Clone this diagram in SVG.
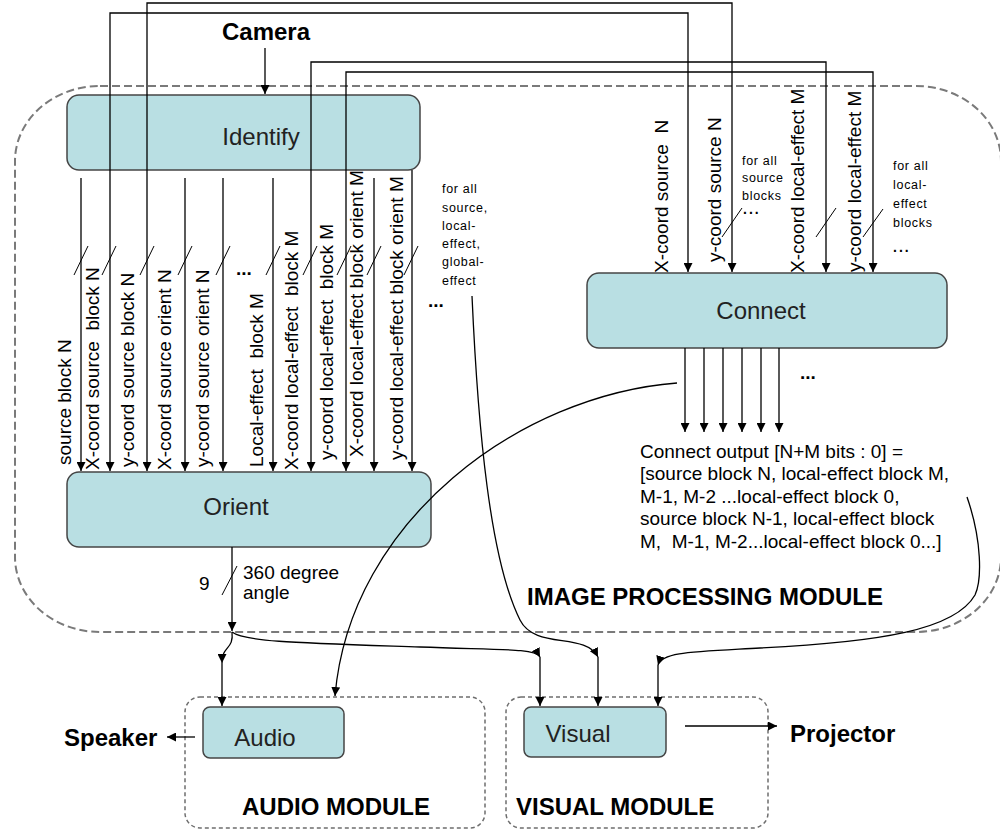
<svg xmlns="http://www.w3.org/2000/svg" width="1000" height="831" viewBox="0 0 1000 831">
  <defs>
    <style>
      .box{fill:#b9dfe3;stroke:#454545;stroke-width:1.5}
      .mod{fill:none;stroke:#6e6e6e;stroke-width:1.5;stroke-dasharray:4 3}
      .outer{fill:none;stroke:#7a7a7a;stroke-width:2;stroke-dasharray:8 4}
      .wire{fill:none;stroke:#000;stroke-width:1.3}
      .arr{marker-end:url(#ah)}
      .both{marker-start:url(#ah);marker-end:url(#ah)}
      .tick{fill:none;stroke:#000;stroke-width:1}
      text{font-family:"Liberation Sans",Arial,Helvetica,sans-serif;fill:#000}
      .node{font-size:24px;fill:#222;text-anchor:middle}
      .lbl{font-size:19px}
      .small{font-size:12.5px;letter-spacing:0.7px}
      .sdots{font-weight:bold;font-size:14px;letter-spacing:2px}
      .bold{font-size:24px;font-weight:bold}
      .dots{font-size:19px;font-weight:bold}
    </style>
    <marker id="ah" viewBox="0 0 10 10" refX="10" refY="5" markerWidth="9" markerHeight="9" markerUnits="userSpaceOnUse" orient="auto-start-reverse">
      <path d="M0,0 L10,5 L0,10 z" fill="#000"/>
    </marker>
  </defs>

  <!-- module boundaries -->
  <g id="image-processing-module">
    <rect class="outer" x="15" y="86" width="986" height="546" rx="85" ry="75"/>
    <text class="bold" x="527" y="605">IMAGE PROCESSING MODULE</text>
  </g>
  <g id="audio-module">
    <rect class="mod" x="185" y="697" width="300" height="131" rx="15"/>
    <text class="bold" x="242" y="815">AUDIO MODULE</text>
  </g>
  <g id="visual-module">
    <rect class="mod" x="506" y="697" width="262" height="131" rx="15"/>
    <text class="bold" x="516" y="815">VISUAL MODULE</text>
  </g>

  <!-- processing blocks -->
  <g id="identify">
    <rect class="box" x="67" y="95" width="353" height="75" rx="12"/>
    <text class="node" x="261" y="145">Identify</text>
  </g>
  <g id="orient">
    <rect class="box" x="67" y="472" width="364" height="75" rx="12"/>
    <text class="node" x="236" y="515">Orient</text>
  </g>
  <g id="connect">
    <rect class="box" x="587" y="273" width="360" height="75" rx="12"/>
    <text class="node" x="761" y="319">Connect</text>
  </g>
  <g id="audio">
    <rect class="box" x="203" y="707" width="141" height="51" rx="7"/>
    <text class="node" x="265" y="746">Audio</text>
  </g>
  <g id="visual">
    <rect class="box" x="524" y="707" width="142" height="50" rx="7"/>
    <text class="node" x="578" y="742">Visual</text>
  </g>

  <!-- external devices -->
  <g id="camera">
    <text class="bold" x="222" y="40">Camera</text>
  </g>
  <g id="speaker">
    <text class="bold" x="64" y="746">Speaker</text>
  </g>
  <g id="projector">
    <text class="bold" x="790" y="742">Projector</text>
  </g>

  <!-- connectors -->
  <g id="connectors">
    <path class="wire arr" d="M265,48 V94"/>

    <!-- Identify outputs into Orient -->
    <path class="wire arr" d="M81,178 V471"/>
    <path class="wire arr" d="M185,178 V471"/>
    <path class="wire arr" d="M223,178 V471"/>
    <path class="wire arr" d="M273,178 V471"/>
    <path class="wire arr" d="M374,178 V471"/>
    <path class="wire arr" d="M412,170 V471"/>

    <!-- shared buses to Orient and Connect -->
    <path class="wire both" d="M110,471 V13 H688 V272"/>
    <path class="wire both" d="M147,471 V3 H732 V272"/>
    <path class="wire both" d="M311,471 V62 H826 V272"/>
    <path class="wire both" d="M346,471 V72 H873 V272"/>

    <!-- Connect outputs -->
    <path class="wire arr" d="M685,348 V432"/>
    <path class="wire arr" d="M704,348 V432"/>
    <path class="wire arr" d="M723,348 V432"/>
    <path class="wire arr" d="M742,348 V432"/>
    <path class="wire arr" d="M761,348 V432"/>
    <path class="wire arr" d="M779,348 V432"/>

    <!-- Orient angle output -->
    <path class="wire arr" d="M232,547 V631"/>
    <path class="wire arr" d="M232,632 C234,650 222,645 222,663"/>
    <path class="wire arr" d="M222,663 V706"/>
    <path class="wire arr" d="M232,632 C245,642 300,643 420,647 C500,650 535,648 540,657"/>
    <path class="wire arr" d="M540,657 V706"/>

    <!-- global/local source feed to Visual -->
    <path class="wire arr" d="M472,296 C478,430 490,560 520,620 C535,650 585,632 598,657"/>
    <path class="wire arr" d="M598,657 V706"/>

    <!-- Connect output to Audio -->
    <path class="wire arr" d="M677,383 C520,395 350,520 335,696"/>

    <!-- Connect output to Visual -->
    <path class="wire arr" d="M967,497 C982,540 982,580 975,595 C955,630 880,642 760,648 C690,652 662,652 658,665"/>
    <path class="wire arr" d="M658,665 V706"/>

    <!-- device links -->
    <path class="wire arr" d="M195,737 H167"/>
    <path class="wire arr" d="M685,726 H777"/>

    <!-- bus width ticks -->
    <g class="tick">
      <path d="M74,275 L88,246"/>
      <path d="M102,275 L116,246"/>
      <path d="M140,275 L154,246"/>
      <path d="M178,275 L192,246"/>
      <path d="M216,275 L230,246"/>
      <path d="M266,275 L280,246"/>
      <path d="M303,275 L317,246"/>
      <path d="M337,275 L351,246"/>
      <path d="M367,275 L381,246"/>
      <path d="M404,275 L418,246"/>
      <path d="M222,595 L237,566"/>
      <path d="M722,237 L742,208"/>
      <path d="M816,237 L836,208"/>
      <path d="M863,237 L883,209"/>
    </g>
  </g>

  <!-- signal labels -->
  <g id="signal-labels" class="lbl">
    <text class="lbl" transform="translate(71,465) rotate(-90)">source block N</text>
    <text class="lbl" xml:space="preserve" transform="translate(99,470) rotate(-90)">X-coord source  block N</text>
    <text class="lbl" transform="translate(134,467) rotate(-90)">y-coord source block N</text>
    <text class="lbl" transform="translate(171,470) rotate(-90)">X-coord source orient N</text>
    <text class="lbl" transform="translate(209,467) rotate(-90)">y-coord source orient N</text>
    <text class="lbl" xml:space="preserve" transform="translate(263,467) rotate(-90)">Local-effect  block M</text>
    <text class="lbl" xml:space="preserve" transform="translate(298,470) rotate(-90)">X-coord local-effect  block M</text>
    <text class="lbl" xml:space="preserve" transform="translate(333,460) rotate(-90)">y-coord local-effect  block M</text>
    <text class="lbl" transform="translate(363,457) rotate(-90)">X-coord local-effect block orient M</text>
    <text class="lbl" transform="translate(403,460) rotate(-90)">y-coord local-effect block orient M</text>
    <text class="dots" x="236" y="275">...</text>
    <text class="dots" x="428" y="307">...</text>

    <text class="small" x="442"><tspan x="442" y="193">for all</tspan><tspan x="442" y="212">source,</tspan><tspan x="442" y="230">local-</tspan><tspan x="442" y="248">effect,</tspan><tspan x="442" y="266">global-</tspan><tspan x="442" y="285">effect</tspan></text>

    <text class="lbl" xml:space="preserve" transform="translate(668,273) rotate(-90)">X-coord source  N</text>
    <text class="lbl" transform="translate(721,262) rotate(-90)">y-coord source N</text>
    <text class="lbl" transform="translate(804,273) rotate(-90)">X-coord local-effect M</text>
    <text class="lbl" transform="translate(861,272) rotate(-90)">y-coord local-effect M</text>
    <text class="small" x="742"><tspan x="742" y="165">for all</tspan><tspan x="742" y="182">source</tspan><tspan x="742" y="200">blocks</tspan><tspan class="sdots" x="743" y="214">...</tspan></text>
    <text class="small" x="893"><tspan x="893" y="170">for all</tspan><tspan x="893" y="189">local-</tspan><tspan x="893" y="208">effect</tspan><tspan x="893" y="227">blocks</tspan><tspan class="sdots" x="893" y="252">...</tspan></text>
    <text class="dots" x="800" y="379">...</text>

    <text class="lbl" xml:space="preserve"><tspan x="640" y="458">Connect output [N+M bits : 0] =</tspan><tspan x="640" y="480">[source block N, local-effect block M,</tspan><tspan x="640" y="503">M-1, M-2 ...local-effect block 0,</tspan><tspan x="640" y="525">source block N-1, local-effect block</tspan><tspan x="640" y="548">M,  M-1, M-2...local-effect block 0...]</tspan></text>

    <text class="lbl" x="199" y="590">9</text>
    <text class="lbl"><tspan x="243" y="579">360 degree</tspan><tspan x="243" y="599">angle</tspan></text>
  </g>
</svg>
